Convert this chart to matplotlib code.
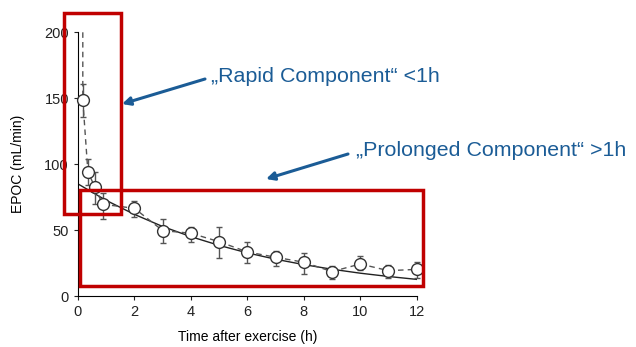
import matplotlib.pyplot as plt
from matplotlib.patches import Rectangle

# measured means and error bars
t_obs = [0.17, 0.35, 0.6, 0.87, 2, 3, 4, 5, 6, 7, 8, 9, 10, 11, 12]
epoc = [148.7, 94.3, 82.4, 69.6, 66.5, 49.6, 47.6, 41.2, 33.4, 29.4, 25.6, 18.5, 24.3, 19.2, 20.2]
err_hi = [160.5, 103.7, 94.3, 78.4, 72.3, 58.2, 52.6, 52.6, 40.7, 34.4, 32.9, 22.8, 30.3, 23.5, 25.6]
err_lo = [136.0, 84.0, 70.0, 58.2, 60.2, 40.0, 41.0, 28.6, 25.3, 22.8, 16.7, 12.6, 19.7, 13.4, 13.4]

# dashed connecting line starts at the top of the axis
dash_t = [0.17] + t_obs
dash_y = [200] + epoc

# fitted prolonged component
fit_t = [0, 1, 2, 3, 4, 5, 6, 7, 8, 9, 10, 11, 12]
fit_y = [85, 72.5, 61.9, 52.7, 45.0, 38.4, 32.7, 27.9, 23.8, 20.3, 17.3, 14.8, 12.6]

x_ticks = [0, 2, 4, 6, 8, 10, 12]
y_ticks = [0, 50, 100, 150, 200]

red = "#C00000"
blue = "#1B5C96"

plt.rcParams["font.family"] = ["Liberation Sans", "DejaVu Sans"]

fig = plt.figure(figsize=(6.36, 3.47), dpi=100)
ax = fig.add_axes([78 / 636, 1 - 296 / 347, (416.7 - 78) / 636, (296 - 32.3) / 347])

ax.plot(fit_t, fit_y, color="#222222", lw=1.0, zorder=2)
ax.plot(dash_t, dash_y, color="#555555", lw=1.0, ls=(0, (4, 3)), zorder=2)
yerr = [[m - lo for m, lo in zip(epoc, err_lo)], [hi - m for m, hi in zip(epoc, err_hi)]]
ax.errorbar(t_obs, epoc, yerr=yerr, fmt="none", ecolor="#555555", elinewidth=1.0,
            capsize=2.5, capthick=1.0, zorder=3, clip_on=False)
ax.plot(t_obs, epoc, ls="none", marker="o", ms=8.5, mfc="white", mec="#333333",
        mew=1.0, zorder=4, clip_on=False)

ax.set_xlim(0, 12)
ax.set_ylim(0, 200)
ax.set_xticks(x_ticks)
ax.set_yticks(y_ticks)
ax.spines["top"].set_visible(False)
ax.spines["right"].set_visible(False)
ax.tick_params(direction="out", length=3, labelsize=10.5, colors="#222222")
ax.set_xlabel("Time after exercise (h)", fontsize=10, labelpad=8)
ax.set_ylabel("EPOC (mL/min)", fontsize=10, labelpad=14)

# red boxes around the two components
ax.add_patch(Rectangle((-0.51, 62.2), 2.04, 152.8, fill=False, ec=red, lw=2.5,
                       clip_on=False, zorder=5))
ax.add_patch(Rectangle((0.06, 7.6), 12.17, 72.8, fill=False, ec=red, lw=2.5,
                       clip_on=False, zorder=5))

# labels with arrows (figure pixel coords)
arrow = dict(arrowstyle="-|>", color=blue, lw=2.2, mutation_scale=12, shrinkA=0, shrinkB=0)
ax.annotate("", xy=(122, 347 - 104), xycoords="figure pixels",
            xytext=(205, 347 - 79), textcoords="figure pixels", arrowprops=arrow)
ax.annotate("", xy=(266, 347 - 179), xycoords="figure pixels",
            xytext=(348, 347 - 154), textcoords="figure pixels", arrowprops=arrow)
fig.text(211 / 636, 1 - 76 / 347, "\u201eRapid Component\u201c <1h", fontsize=15.4,
         color=blue, va="center", ha="left")
fig.text(356 / 636, 1 - 150 / 347, "\u201eProlonged Component\u201c >1h", fontsize=15.4,
         color=blue, va="center", ha="left")

fig.savefig("out.png", dpi=100)
